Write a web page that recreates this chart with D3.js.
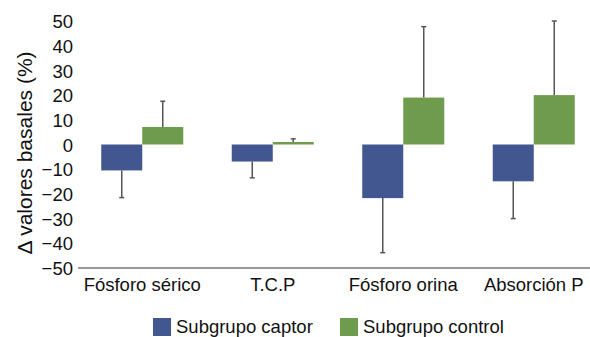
<!DOCTYPE html>
<html><head><meta charset="utf-8">
<script src="https://cdn.jsdelivr.net/npm/d3@7"></script>
<style>body{margin:0;background:#fff}svg{display:block;font-family:"Liberation Sans",Arial,Helvetica,sans-serif}</style>
</head><body><svg id="c" width="590" height="337"></svg>
<script>
const categories = ["Fósforo sérico","T.C.P","Fósforo orina","Absorción P"];
const seriesNames = ["Subgrupo captor","Subgrupo control"];
const captorValues = [-10.5, -6.9, -21.7, -14.9];
const captorErrors = [-21.5, -13.5, -43.8, -30];
const controlValues = [7.1, 1.0, 19.0, 20.0];
const controlErrors = [17.5, 2.3, 47.7, 50];
const yTicks = [-50,-40,-30,-20,-10,0,10,20,30,40,50];
const colors = ["#42568f","#6f9c4c"];

const svg = d3.select("#c");
const y = d3.scaleLinear().domain([-50,50]).range([268,21]);
const x0 = d3.scaleBand().domain(categories).range([77,599]);
const bw = 41;
const x1 = d3.scaleBand().domain(seriesNames).range([x0.bandwidth()/2-bw, x0.bandwidth()/2+bw]);

const rows = categories.map((c,i)=>({c, vals:[
  {s:seriesNames[0], v:captorValues[i], e:captorErrors[i]},
  {s:seriesNames[1], v:controlValues[i], e:controlErrors[i]}]}));

// y axis tick labels
const yAxis = d3.axisLeft(y).tickValues(yTicks).tickSize(0).tickPadding(0)
  .tickFormat(d=> d<0 ? "\u2212"+Math.abs(d) : String(d));
const gy = svg.append("g").attr("transform","translate(73,0)").call(yAxis);
gy.select(".domain").remove();
gy.selectAll("text").attr("font-size",18.5).attr("fill","#111").attr("font-family","Liberation Sans, Arial, sans-serif").attr("dy","0.36em");

// bars
const g = svg.append("g");
rows.forEach(r=>{
  const gx = x0(r.c);
  r.vals.forEach((d,j)=>{
    const bx = gx + x1(d.s);
    g.append("rect").attr("x",bx).attr("width",x1.bandwidth())
      .attr("y",y(Math.max(0,d.v))).attr("height",Math.abs(y(d.v)-y(0)))
      .attr("fill",colors[j]);
    const cx = bx + x1.bandwidth()/2;
    g.append("line").attr("x1",cx).attr("x2",cx).attr("y1",y(d.v)).attr("y2",y(d.e))
      .attr("stroke","#555").attr("stroke-width",1.5);
    g.append("line").attr("x1",cx-2.5).attr("x2",cx+2.5).attr("y1",y(d.e)).attr("y2",y(d.e))
      .attr("stroke","#555").attr("stroke-width",1.5);
  });
});

// x axis
const xAxis = d3.axisBottom(x0).tickSize(0).tickPadding(0);
const gx = svg.append("g").attr("transform",`translate(0,${y(-50)})`).call(xAxis);
gx.select(".domain").remove();
svg.append("line").attr("x1",78).attr("x2",590).attr("y1",y(-50)).attr("y2",y(-50))
  .attr("stroke","#333").attr("stroke-width",1.2);
gx.selectAll("text").attr("font-size",18.5).attr("fill","#111").attr("font-family","Liberation Sans, Arial, sans-serif").attr("dy","1.22em");

// y label
svg.append("text").attr("transform","translate(32,153) rotate(-90)")
  .attr("text-anchor","middle").attr("font-size",21).attr("fill","#111")
  .text("\u0394 valores basales (%)");

// legend
const legX = [153, 340];
seriesNames.forEach((s,i)=>{
  svg.append("rect").attr("x",legX[i]).attr("y",318).attr("width",18).attr("height",18).attr("fill",colors[i]);
  svg.append("text").attr("x",legX[i]+23).attr("y",333).attr("font-size",18.5).attr("fill","#111").text(s);
});
</script></body></html>
